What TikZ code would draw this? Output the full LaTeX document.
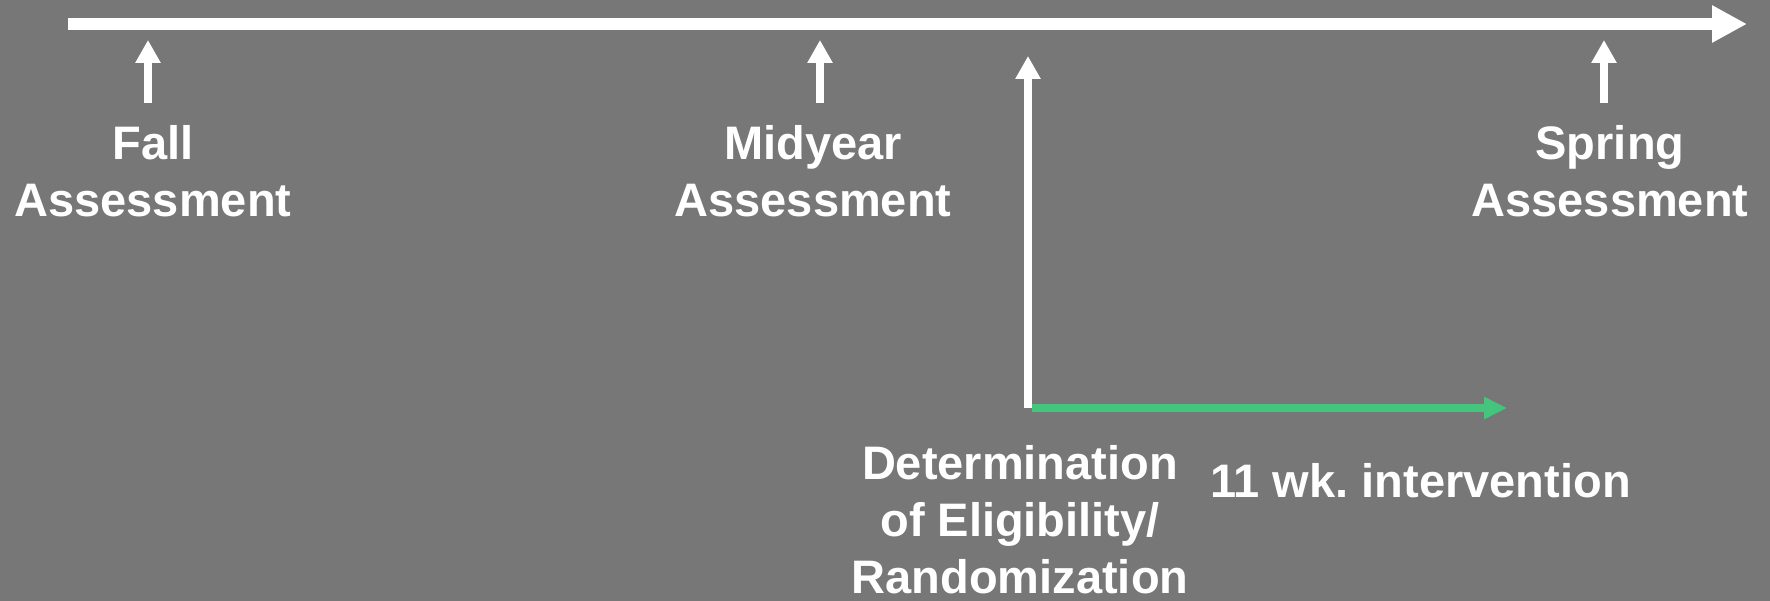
\documentclass[tikz,border=0pt]{standalone}
\usepackage{fontspec}
\setmainfont{Liberation Sans}
\usetikzlibrary{arrows.meta}
\definecolor{bg}{RGB}{119,119,119}
\definecolor{grn}{RGB}{69,196,126}
\tikzset{
  lbl/.style={text=white, font=\bfseries\fontsize{47}{57}\selectfont, inner sep=0pt, align=center, anchor=north},
  timeline/.style={white, line width=12pt, -{Triangle[length=35pt,width=35pt]}},
  tick/.style={white, line width=8pt, -{Triangle[length=23pt,width=24pt]}},
  greenarr/.style={grn, line width=8pt, -{Triangle[length=23pt,width=21pt]}}
}
\begin{document}
\begin{tikzpicture}[x=1pt,y=-1pt]
\fill[bg] (0,0) rectangle (1770,601);
\useasboundingbox (0,0) rectangle (1770,601);
% timeline
\coordinate (tl0) at (68,24);
\coordinate (tl1) at (1747,24);
\draw[timeline] (tl0) -- (tl1);
% labels
\node[lbl] (fall) at (153,125) {Fall\\Assessment};
\node[lbl] (mid) at (813,125) {Midyear\\Assessment};
\node[lbl] (spring) at (1610,125) {Spring\\Assessment};
\node[lbl] (det) at (1020,445) {Determination\\of Eligibility/\\Randomization};
\node[lbl, anchor=base west] (int) at (1210,497) {11 wk.\ intervention};
% tick arrows
\coordinate (fallT) at (148,103);
\coordinate (fallH) at (148,40);
\coordinate (midT) at (820,103);
\coordinate (midH) at (820,40);
\coordinate (sprT) at (1604,103);
\coordinate (sprH) at (1604,40);
\draw[tick] (fallT) -- (fallH);
\draw[tick] (midT) -- (midH);
\draw[tick] (sprT) -- (sprH);
% determination arrow
\coordinate (detB) at (1028,408);
\coordinate (detH) at (1028,56);
\draw[tick] (detB) -- (detH);
% intervention arrow
\coordinate (intS) at (1032,408);
\coordinate (intE) at (1507,408);
\draw[greenarr] (intS) -- (intE);
\end{tikzpicture}
\end{document}
